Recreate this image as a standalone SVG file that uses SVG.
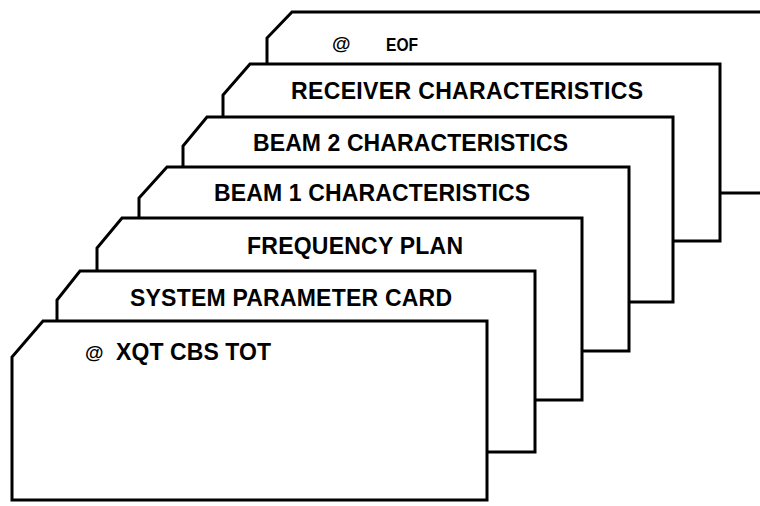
<svg xmlns="http://www.w3.org/2000/svg" width="760" height="506" viewBox="0 0 760 506">
<style>
.card{fill:#fff;stroke:#000;stroke-width:3;stroke-linejoin:miter}
.t{font-family:"Liberation Sans",Arial,sans-serif;font-weight:bold;font-size:23px;fill:#000}
.s{font-family:"Liberation Sans",Arial,sans-serif;font-weight:bold;font-size:19px;fill:#000}
</style>
<rect width="760" height="506" fill="#fff"/>
<g id="card-eof">
<path class="card" d="M267,193 V38 L292,12 H790 V193 Z"/>
<text class="s" x="332" y="50">@</text>
<text class="s" x="386" y="51" font-size="21" textLength="32" lengthAdjust="spacingAndGlyphs">EOF</text>
</g>
<g id="card-receiver">
<path class="card" d="M223,241 V95 L250,64 H720 V241 Z"/>
<text class="t" x="291" y="99" textLength="352" lengthAdjust="spacing">RECEIVER CHARACTERISTICS</text>
</g>
<g id="card-beam2">
<path class="card" d="M183,302 V146 L207,117 H673 V302 Z"/>
<text class="t" x="253" y="151" textLength="315" lengthAdjust="spacing">BEAM 2 CHARACTERISTICS</text>
</g>
<g id="card-beam1">
<path class="card" d="M139,351 V198 L167,167 H629 V351 Z"/>
<text class="t" x="214" y="201" textLength="316" lengthAdjust="spacing">BEAM 1 CHARACTERISTICS</text>
</g>
<g id="card-frequency">
<path class="card" d="M97,400 V248 L122,218 H582 V400 Z"/>
<text class="t" x="247" y="254" textLength="216" lengthAdjust="spacing">FREQUENCY PLAN</text>
</g>
<g id="card-system">
<path class="card" d="M57,452 V300 L80,271 H535 V452 Z"/>
<text class="t" x="130" y="306" textLength="322" lengthAdjust="spacing">SYSTEM PARAMETER CARD</text>
</g>
<g id="card-xqt">
<path class="card" d="M12,500 V357 L43,321 H487 V500 Z"/>
<text class="s" x="85" y="359">@</text>
<text class="t" x="116" y="360" textLength="155" lengthAdjust="spacing">XQT CBS TOT</text>
</g>
<g id="connectors"></g>
</svg>
